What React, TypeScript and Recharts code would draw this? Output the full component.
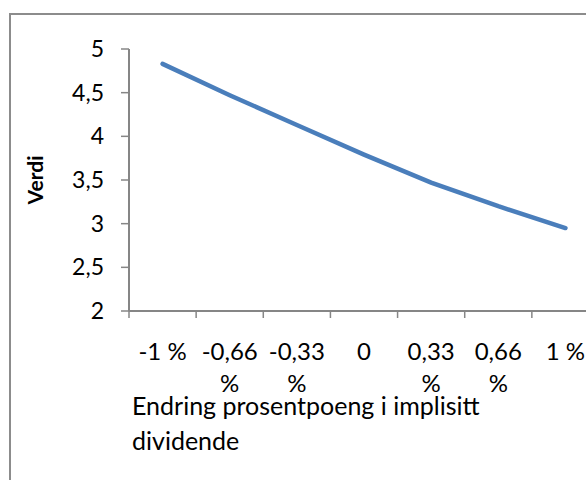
import React from 'react';
import { LineChart, Line, XAxis, YAxis, Label } from 'recharts';

const categories = ['-1 %', '-0,66 %', '-0,33 %', '0', '0,33 %', '0,66 %', '1 %'];
const verdi = [4.83, 4.47, 4.13, 3.79, 3.47, 3.2, 2.95];
const yTicks = [2, 2.5, 3, 3.5, 4, 4.5, 5];
const yTitle = 'Verdi';
const xTitleLines = ['Endring prosentpoeng i implisitt', 'dividende'];

const data = categories.map((kategori, i) => ({ kategori, verdi: verdi[i] }));

const FONT = 'Lato, "Open Sans", sans-serif';
const AXIS_GREY = '#868686';
const CHART_W = 620;
const CHART_H = 500;
const MARGIN = { top: 49, right: 21, bottom: 159, left: 0 };
const Y_AXIS_W = 129;
const PLOT_W = CHART_W - MARGIN.left - MARGIN.right - Y_AXIS_W;
const X_TICK_SIZE = 24;

// greedy word wrap, measured on a canvas with the tick font
let measureCtx: CanvasRenderingContext2D | null = null;
function wrapLabel(text: string, maxWidth: number, font: string): string[] {
  if (!measureCtx) measureCtx = document.createElement('canvas').getContext('2d');
  if (!measureCtx) return [text];
  measureCtx.font = font;
  const lines: string[] = [];
  let current = '';
  for (const word of text.split(' ')) {
    const candidate = current ? `${current} ${word}` : word;
    if (current && measureCtx.measureText(candidate).width > maxWidth) {
      lines.push(current);
      current = word;
    } else {
      current = candidate;
    }
  }
  if (current) lines.push(current);
  return lines;
}

// category ticks sit between the points, labels in the middle of each band
function CategoryTick(props: any) {
  const { x, y, payload, index } = props;
  const half = payload?.offset ?? PLOT_W / (2 * categories.length);
  const last = index === categories.length - 1;
  const lines = wrapLabel(String(payload.value), half * 2 - 12, `${X_TICK_SIZE}px Lato`);
  return (
    <g>
      <line x1={x - half} y1={y} x2={x - half} y2={y + 7} stroke={AXIS_GREY} strokeWidth={1.5} />
      {last && (
        <line x1={x + half} y1={y} x2={x + half} y2={y + 7} stroke={AXIS_GREY} strokeWidth={1.5} />
      )}
      <text
        x={x}
        y={y + 49}
        textAnchor="middle"
        fill="#000"
        style={{ fontFamily: FONT, fontSize: X_TICK_SIZE }}
      >
        {lines.map((line, i) => (
          <tspan key={i} x={x} dy={i === 0 ? 0 : 32}>
            {line}
          </tspan>
        ))}
      </text>
    </g>
  );
}

function XTitle(props: any) {
  const { x, y } = props.viewBox;
  return (
    <text x={x + 3} y={y + 104} fill="#000" style={{ fontFamily: FONT, fontSize: 25 }}>
      {xTitleLines.map((line, i) => (
        <tspan key={i} x={x + 3} dy={i === 0 ? 0 : 35}>
          {line}
        </tspan>
      ))}
    </text>
  );
}

function YTitle(props: any) {
  const { y, height } = props.viewBox;
  const cy = y + height / 2;
  return (
    <text
      transform={`translate(43, ${cy}) rotate(-90)`}
      textAnchor="middle"
      fill="#000"
      style={{ fontFamily: FONT, fontSize: 21, fontWeight: 700 }}
    >
      {yTitle}
    </text>
  );
}

export default function App() {
  return (
    <div
      style={{
        position: 'absolute',
        left: 0,
        top: 0,
        width: 586,
        height: 480,
        overflow: 'hidden',
        background: '#fff',
        fontFamily: FONT,
      }}
    >
      <div
        style={{
          position: 'absolute',
          left: 9,
          top: 12.5,
          width: 620,
          height: 520,
          border: '2px solid #8c8c8c',
        }}
      />
      <div style={{ position: 'absolute', left: 0, top: 0 }}>
        <LineChart width={CHART_W} height={CHART_H} data={data} margin={MARGIN}>
          <XAxis
            dataKey="kategori"
            scale="band"
            interval={0}
            height={30}
            tickSize={0}
            tickMargin={0}
            tickLine={false}
            axisLine={{ stroke: AXIS_GREY, strokeWidth: 2 }}
            tick={<CategoryTick />}
          >
            <Label content={<XTitle />} />
          </XAxis>
          <YAxis
            width={Y_AXIS_W}
            domain={[2, 5]}
            ticks={yTicks}
            interval={0}
            tickSize={8}
            tickMargin={17}
            tickFormatter={(v: number) => String(v).replace('.', ',')}
            tick={{ fill: '#000', fontSize: 23, fontFamily: FONT }}
            tickLine={{ stroke: AXIS_GREY, strokeWidth: 1.5 }}
            axisLine={{ stroke: AXIS_GREY, strokeWidth: 2 }}
          >
            <Label content={<YTitle />} />
          </YAxis>
          <Line
            type="linear"
            dataKey="verdi"
            stroke="#4A7EBB"
            strokeWidth={4.5}
            strokeLinecap="round"
            dot={false}
            isAnimationActive={false}
          />
        </LineChart>
      </div>
    </div>
  );
}
